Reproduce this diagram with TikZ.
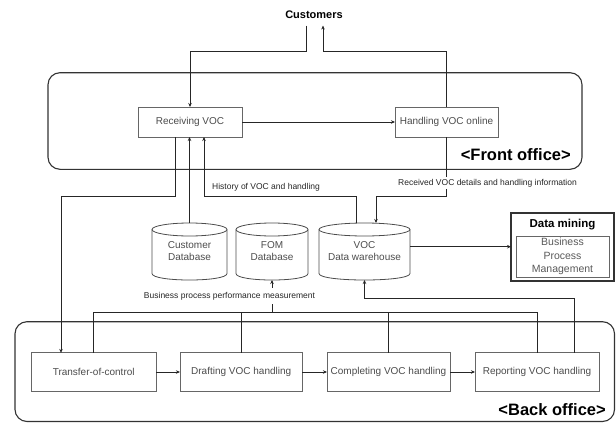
\documentclass[tikz,border=0pt]{standalone}
\usepackage{fontspec}
\setmainfont{Liberation Sans}
\usetikzlibrary{arrows.meta,calc}
\newcommand\dbshape[2]{%
  \draw[dbline] ([yshift=-6.5pt]#1.north) ellipse [x radius=#2, y radius=6.5pt];
  \draw[dbline] ([yshift=-6.5pt]#1.north west) -- ([yshift=6.5pt]#1.south west)
     .. controls ([yshift=-2.17pt]#1.south west) and ([yshift=-2.17pt]#1.south east) ..
     ([yshift=6.5pt]#1.south east) -- ([yshift=-6.5pt]#1.north east);
}
\begin{document}
\begin{tikzpicture}[x=1pt,y=-1pt,
  line/.style={draw=black!85, line width=0.7pt},
  arr/.style={line, -{Stealth[length=4pt,width=3.5pt]}},
  box/.style={draw=black!60, line width=0.8pt, fill=white, minimum height=30pt,
    inner sep=0pt, outer sep=0pt, text=black!70, font=\fontsize{10}{12}\selectfont},
  lowbox/.style={box, minimum height=38.3pt},
  db/.style={inner sep=0pt, outer sep=0pt, minimum height=57pt, align=center,
    text=black!70, font=\fontsize{10}{12}\selectfont},
  dbline/.style={draw=black!70, line width=0.8pt},
  lbl/.style={font=\fontsize{8.5}{10}\selectfont, text=black!85, inner sep=1pt},
  office/.style={draw=black!80, line width=1.1pt, rounded corners=12pt},
  officelbl/.style={font=\bfseries\fontsize{16.5}{18}\selectfont, anchor=east, inner sep=0pt}
]
\useasboundingbox (0,0) rectangle (616,423);

% containers
\draw[office] (48,72.7) rectangle (582,169.3);
\draw[office] (15,321.7) rectangle (614.5,421.5);
\node[officelbl] (fol) at (571,155) {<Front office>};
\node[officelbl] (bol) at (606,410) {<Back office>};

% nodes
\node[font=\bfseries\fontsize{11}{13}\selectfont, inner xsep=2pt, inner ysep=6.5pt] (cust) at (314,15) {Customers};
\node[box, minimum width=104pt] (rv) at (190,122) {Receiving VOC};
\node[box, minimum width=103pt] (ho) at (446.5,122) {Handling VOC online};

\node[db, minimum width=75pt] (cdb) at (189.5,251.5) {Customer\\Database};
\node[db, minimum width=72pt] (fom) at (272,251.5) {FOM\\Database};
\node[db, minimum width=91pt] (dw) at (364.5,251.5) {VOC\\Data warehouse};
\dbshape{cdb}{37.5pt}
\dbshape{fom}{36pt}
\dbshape{dw}{45.5pt}

\node[draw=black!80, line width=2pt, minimum width=103pt, minimum height=68pt,
  inner sep=0pt, outer sep=0pt] (dm) at (562.5,246.7) {};
\node[font=\bfseries\fontsize{11.5}{13}\selectfont] (dmt) at (562.5,224.5) {Data mining};
\node[draw=black!60, line width=0.8pt, minimum width=93pt, minimum height=41pt,
  inner sep=0pt, align=center, text=black!65, font=\fontsize{10.5}{13.5}\selectfont]
  (bpm) at (562.5,256.5) {Business\\Process\\Management};

\node[lowbox, minimum width=124.6pt] (tc) at (93.7,372) {Transfer-of-control};
\node[lowbox, minimum width=122.5pt] (dr) at (241.2,372) {Drafting VOC handling};
\node[lowbox, minimum width=123pt] (cp) at (388.5,372) {Completing VOC handling};
\node[lowbox, minimum width=124pt] (rp) at (537,372) {Reporting VOC handling};

% helper levels
\coordinate (hy) at (0,51.7);
\coordinate (ly) at (0,196);
\coordinate (by) at (0,312.7);
\coordinate (ry) at (0,298);
\coordinate (cl) at ([xshift=-8pt]cust.south);
\coordinate (cr) at ([xshift=9pt]cust.south);
\coordinate (rvl) at ([xshift=-15pt]rv.south);
\coordinate (rvr) at ([xshift=14pt]rv.south);
\coordinate (tcl) at ([xshift=-32.7pt]tc.north);
\coordinate (dwl) at ([xshift=-8.5pt]dw.north);
\coordinate (dwr) at ([xshift=11.5pt]dw.north);
\coordinate (rpr) at ([xshift=37.5pt]rp.north);

% connectors
\draw[arr] (cl) |- (rv.north |- hy) -- (rv.north);
\draw[arr] (ho.north) |- (cr |- hy) -- (cr);
\draw[arr] (rv) -- (ho);
\draw[arr] (rvl) |- (tcl |- ly) -- (tcl);
\draw[arr] (cdb.north) -- (cdb.north |- rv.south);
\draw[arr] (dwl) |- (rvr |- ly) -- (rvr);
\draw[arr] (ho.south) |- (dwr |- ly) -- (dwr);
\node[lbl, fill=white, inner ysep=2pt] (lrecv) at (487.5,183) {Received VOC details and handling information};
\node[lbl, anchor=west] (lhist) at (211,187) {History of VOC and handling};
\draw[arr] (dw.east |- dm.west) -- (dm.west);

\draw[line] (tc.north) |- (rp.north |- by) -- (rp.north);
\draw[line] (dr.north) -- (dr.north |- by);
\draw[line] (cp.north) -- (cp.north |- by);
\draw[arr] (fom.south |- by) -- (fom.south);
\node[lbl, fill=white, inner ysep=4pt] (lbpm) at (229.5,296) {Business process performance measurement};
\draw[arr] (rpr) |- (dw.south |- ry) -- (dw.south);

\draw[arr] (tc) -- (dr);
\draw[arr] (dr) -- (cp);
\draw[arr] (cp) -- (rp);
\end{tikzpicture}
\end{document}
